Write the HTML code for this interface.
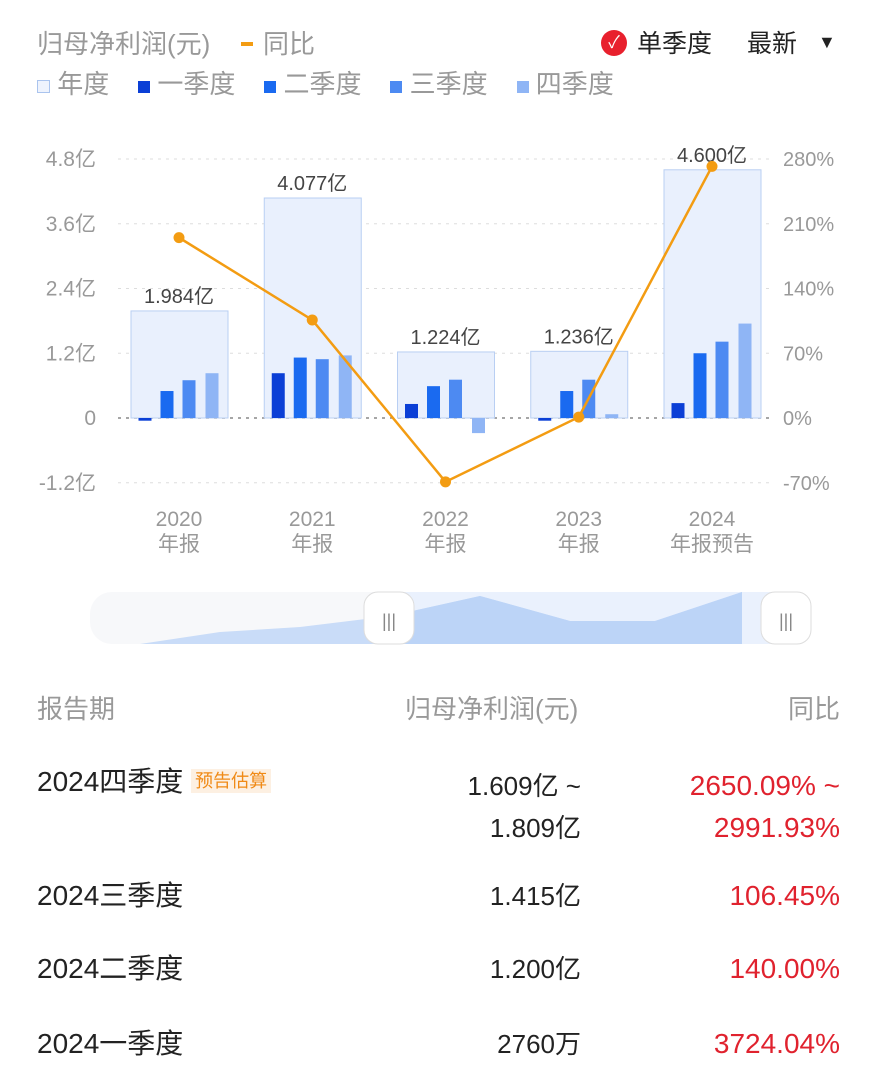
<!DOCTYPE html>
<html><head><meta charset="utf-8">
<style>
body{margin:0;width:877px;height:1080px;background:#fff;font-family:"Liberation Sans","Noto Sans CJK SC",sans-serif;position:relative;overflow:hidden}
.a{position:absolute;white-space:nowrap}
.g{color:#999;font-size:26px;line-height:32px}
.row{font-size:26px;color:#222;line-height:32px}
.lbl{font-size:28px}
.red{color:#e0222e;font-size:28px}
</style></head><body>
<div class="a g" style="left:37px;top:28px">归母净利润(元)</div>
<div class="a" style="left:241px;top:42px;width:12px;height:4px;background:#f39c12"></div>
<div class="a g" style="left:263px;top:28px">同比</div>
<div class="a" style="left:601px;top:30px;width:26px;height:26px;border-radius:50%;background:#e8202d;color:#fff;font-size:17px;text-align:center;line-height:26px">✓</div>
<div class="a" style="left:637px;top:28px;font-size:25px;line-height:32px;color:#222">单季度</div>
<div class="a" style="left:747px;top:28px;font-size:25px;line-height:32px;color:#222">最新 <span style="font-size:18px;position:relative;top:-4px;left:14px">▼</span></div>
<div class="a g" style="left:37px;top:68px">
<span style="display:inline-block;width:11px;height:11px;border:1px solid #aac4ee;background:#eef3fd"></span> 年度&nbsp;&nbsp;&nbsp;
<span style="display:inline-block;width:12px;height:12px;background:#0b3fd6"></span> 一季度&nbsp;&nbsp;&nbsp;
<span style="display:inline-block;width:12px;height:12px;background:#1a6af0"></span> 二季度&nbsp;&nbsp;&nbsp;
<span style="display:inline-block;width:12px;height:12px;background:#4d8af2"></span> 三季度&nbsp;&nbsp;&nbsp;
<span style="display:inline-block;width:12px;height:12px;background:#8fb5f5"></span> 四季度</div>
<svg class="a" style="left:0;top:130px" width="877" height="440" id="chart"></svg>
<svg class="a" style="left:0;top:580px" width="877" height="80">
<rect x="90" y="12" width="720" height="52" rx="22" fill="#f7f8fa"/>
<rect x="390" y="12" width="395" height="52" fill="#eaf1fd"/>
<polygon points="140,64 220,52 300,47 390,36 480,16 570,41 655,41 742,12 742,64" fill="#c9dcf8"/>
<polygon points="390,64 390,36 480,16 570,41 655,41 742,12 742,64" fill="#bcd4f7"/>
<rect x="364" y="12" width="50" height="52" rx="14" fill="#fff" stroke="#ddd"/>
<text x="389" y="47" text-anchor="middle" font-size="18" fill="#888">|||</text>
<rect x="761" y="12" width="50" height="52" rx="14" fill="#fff" stroke="#ddd"/>
<text x="786" y="47" text-anchor="middle" font-size="18" fill="#888">|||</text>
</svg>
<div class="a g" style="left:37px;top:693px">报告期</div>
<div class="a g" style="left:405px;top:693px">归母净利润(元)</div>
<div class="a g" style="right:37px;top:693px">同比</div>
<div class="a row lbl" style="left:37px;top:765px">2024四季度 <span style="font-size:18px;color:#f08a16;background:#fdf0e2;padding:2px 4px;vertical-align:4px">预告估算</span></div>
<div class="a row" style="right:296px;top:765px;text-align:right;line-height:42px">1.609亿 ~<br>1.809亿</div>
<div class="a row red" style="right:37px;top:765px;text-align:right;line-height:42px">2650.09% ~<br>2991.93%</div>
<div class="a row lbl" style="left:37px;top:880px">2024三季度</div>
<div class="a row" style="right:296px;top:880px">1.415亿</div>
<div class="a row red" style="right:37px;top:880px">106.45%</div>
<div class="a row lbl" style="left:37px;top:953px">2024二季度</div>
<div class="a row" style="right:296px;top:953px">1.200亿</div>
<div class="a row red" style="right:37px;top:953px">140.00%</div>
<div class="a row lbl" style="left:37px;top:1028px">2024一季度</div>
<div class="a row" style="right:296px;top:1028px">2760万</div>
<div class="a row red" style="right:37px;top:1028px">3724.04%</div>
<script>
const categories=["2020","2021","2022","2023","2024"];
const catSub=["年报","年报","年报","年报","年报预告"];
const annual=[1.984,4.077,1.224,1.236,4.600];
const annualLabels=["1.984亿","4.077亿","1.224亿","1.236亿","4.600亿"];
const q1=[-0.05,0.83,0.26,-0.05,0.276];
const q2=[0.50,1.12,0.59,0.50,1.20];
const q3=[0.70,1.09,0.71,0.71,1.415];
const q4=[0.83,1.16,-0.28,0.07,1.75];
const yoy=[195,106,-69,1,272];
const leftTicks=[4.8,3.6,2.4,1.2,0,-1.2];
const leftTickLabels=["4.8亿","3.6亿","2.4亿","1.2亿","0","-1.2亿"];
const rightTicks=[280,210,140,70,0,-70];
const rightTickLabels=["280%","210%","140%","70%","0%","-70%"];
const svg=document.getElementById('chart');const NS='http://www.w3.org/2000/svg';
const y0=288;
function yL(v){return y0-v*(259/4.8);}
function yR(v){return y0-v*(259/280);}
function xC(i){return 179+i*133.25;}
function mk(t,a,p){const e=document.createElementNS(NS,t);for(const k in a)e.setAttribute(k,a[k]);(p||svg).appendChild(e);return e;}
leftTicks.forEach((t,i)=>{const y=yL(t);
const l=mk('line',{x1:118,x2:772,y1:y,y2:y,stroke:t===0?'#888':'#ddd','stroke-dasharray':'3,5','stroke-width':t===0?1.5:1});


const tx=mk('text',{x:96,y:y+7,'text-anchor':'end','font-size':21,fill:'#999'});tx.textContent=leftTickLabels[i];


const tr=mk('text',{x:783,y:yR(rightTicks[i])+7,'font-size':20,fill:'#999'});tr.textContent=rightTickLabels[i];

});
const qs=[q1,q2,q3,q4],cols=['#0b3fd6','#1a6af0','#4d8af2','#8fb5f5'],offs=[-34,-12,10,33];
categories.forEach((c,i)=>{const x=xC(i);
const r=mk('rect',{x:x-48,y:yL(annual[i]),width:97,height:yL(0)-yL(annual[i]),fill:'#e9f0fd',stroke:'#b9cff3'});


const al=mk('text',{x:x,y:yL(annual[i])-8,'text-anchor':'middle','font-size':20,fill:'#444'});al.textContent=annualLabels[i];


qs.forEach((q,j)=>{const v=q[i];const b=mk('rect',{x:x+offs[j]-6.5,y:Math.min(yL(v),yL(0)),width:13,height:Math.abs(yL(v)-yL(0)),fill:cols[j]});

});
const t1=mk('text',{x:x,y:396,'text-anchor':'middle','font-size':21,fill:'#999'});t1.textContent=c;


const t2=mk('text',{x:x,y:421,'text-anchor':'middle','font-size':21,fill:'#999'});t2.textContent=catSub[i];

});
const pl=mk('polyline',{points:yoy.map((v,i)=>xC(i)+','+yR(v)).join(' '),fill:'none',stroke:'#f39c12','stroke-width':2.5});


yoy.forEach((v,i)=>{const d=mk('circle',{cx:xC(i),cy:yR(v),r:5.5,fill:'#f39c12'});

});
</script>
</body></html>
